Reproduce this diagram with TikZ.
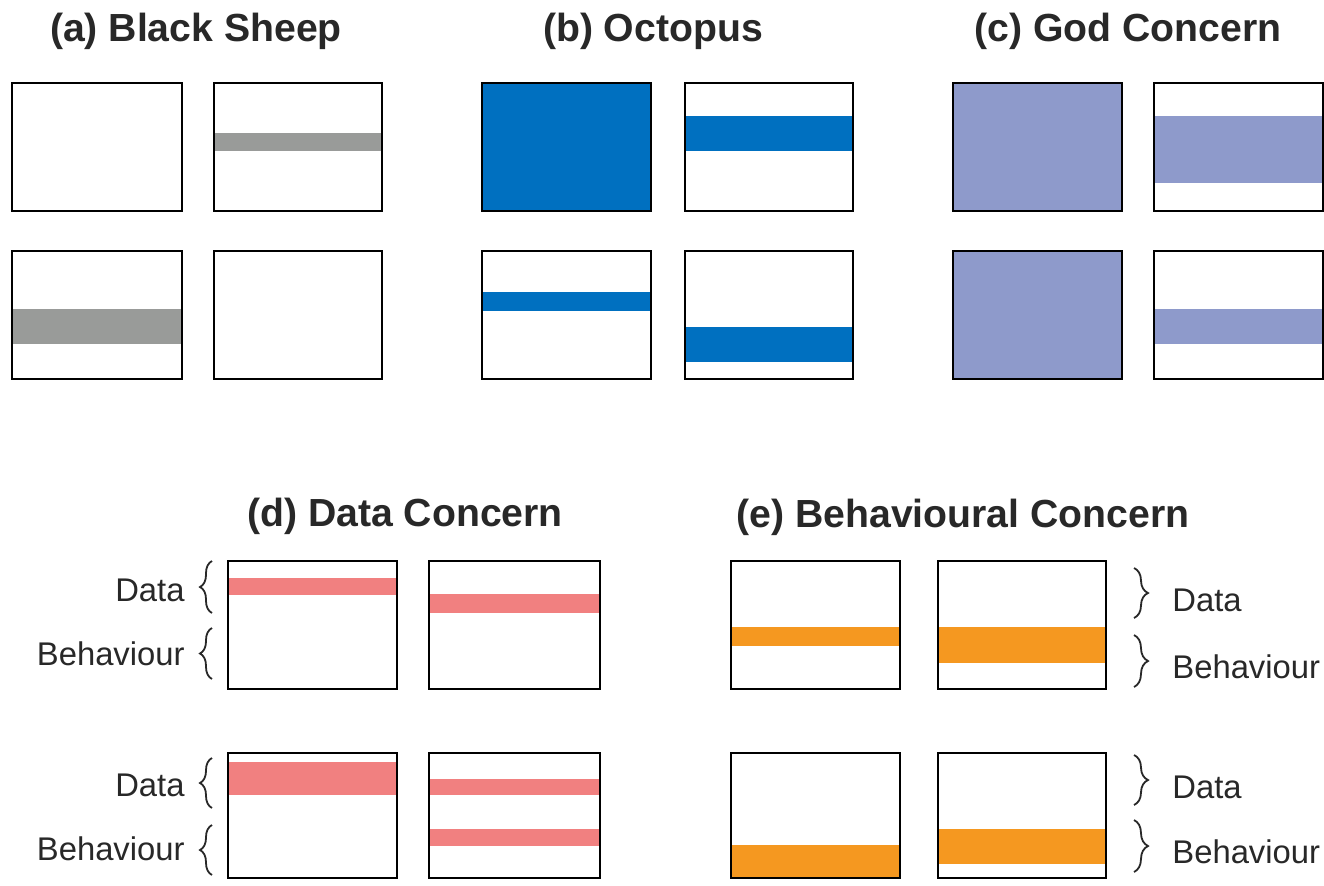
\documentclass[tikz,border=0pt]{standalone}
\usepackage{fontspec}
\setmainfont{Liberation Sans}
\usetikzlibrary{decorations.pathreplacing}
\definecolor{sheepgray}{RGB}{153,155,153}
\definecolor{octoblue}{RGB}{0,112,192}
\definecolor{godblue}{RGB}{142,154,203}
\definecolor{datapink}{RGB}{241,128,128}
\definecolor{behorange}{RGB}{245,152,32}
\definecolor{titlegray}{RGB}{40,40,40}
\begin{document}
\begin{tikzpicture}[x=0.5pt,y=-0.5pt,
  cell/.style={draw=black,line width=1pt},
  paneltitle/.style={font=\bfseries\fontsize{19.6}{22}\selectfont,text=titlegray,anchor=base,inner sep=0pt},
  sidelabel/.style={font=\fontsize{16.4}{18}\selectfont,text=titlegray,inner sep=0pt},
  lbrace/.style={decorate,decoration={brace,amplitude=6pt},line width=0.9pt,draw=titlegray},
  rbrace/.style={decorate,decoration={brace,amplitude=7pt},line width=0.9pt,draw=titlegray}]
\useasboundingbox (0,0) rectangle (1324,885);

% (a) Black Sheep
\node[paneltitle] (ta) at (196,41) {(a) Black Sheep};
\fill[sheepgray] (214,133) rectangle (382,151);
\fill[sheepgray] (12,309) rectangle (182,344);
\draw[cell] (12,83) rectangle (182,211);
\draw[cell] (214,83) rectangle (382,211);
\draw[cell] (12,251) rectangle (182,379);
\draw[cell] (214,251) rectangle (382,379);

% (b) Octopus
\node[paneltitle] (tb) at (653,41) {(b) Octopus};
\fill[octoblue] (482,83) rectangle (651,211);
\fill[octoblue] (685,116) rectangle (853,151);
\fill[octoblue] (482,292) rectangle (651,311);
\fill[octoblue] (685,327) rectangle (853,362);
\draw[cell] (482,83) rectangle (651,211);
\draw[cell] (685,83) rectangle (853,211);
\draw[cell] (482,251) rectangle (651,379);
\draw[cell] (685,251) rectangle (853,379);

% (c) God Concern
\node[paneltitle] (tc) at (1128,41) {(c) God Concern};
\fill[godblue] (953,83) rectangle (1122,211);
\fill[godblue] (1154,116) rectangle (1323,183);
\fill[godblue] (953,251) rectangle (1122,379);
\fill[godblue] (1154,309) rectangle (1323,344);
\draw[cell] (953,83) rectangle (1122,211);
\draw[cell] (1154,83) rectangle (1323,211);
\draw[cell] (953,251) rectangle (1122,379);
\draw[cell] (1154,251) rectangle (1323,379);

% (d) Data Concern
\node[paneltitle] (td) at (405,526) {(d) Data Concern};
\fill[datapink] (228,578) rectangle (397,595);
\fill[datapink] (429,594) rectangle (600,613);
\fill[datapink] (228,762) rectangle (397,795);
\fill[datapink] (429,779) rectangle (600,795);
\fill[datapink] (429,829) rectangle (600,846);
\draw[cell] (228,561) rectangle (397,689);
\draw[cell] (429,561) rectangle (600,689);
\draw[cell] (228,753) rectangle (397,878);
\draw[cell] (429,753) rectangle (600,878);
\node[sidelabel,anchor=east] (d1) at (185,590) {Data};
\node[sidelabel,anchor=east] (d2) at (185,654) {Behaviour};
\node[sidelabel,anchor=east] (d3) at (185,785) {Data};
\node[sidelabel,anchor=east] (d4) at (185,849) {Behaviour};
\draw[lbrace] (212,613) -- (212,561);
\draw[lbrace] (212,679) -- (212,628);
\draw[lbrace] (212,808) -- (212,758);
\draw[lbrace] (212,875) -- (212,825);

% (e) Behavioural Concern
\node[paneltitle] (te) at (963,527) {(e) Behavioural Concern};
\fill[behorange] (731,627) rectangle (900,646);
\fill[behorange] (938,627) rectangle (1106,663);
\fill[behorange] (731,845) rectangle (900,878);
\fill[behorange] (938,829) rectangle (1106,864);
\draw[cell] (731,561) rectangle (900,689);
\draw[cell] (938,561) rectangle (1106,689);
\draw[cell] (731,753) rectangle (900,878);
\draw[cell] (938,753) rectangle (1106,878);
\draw[rbrace] (1134,568) -- (1134,618);
\draw[rbrace] (1134,635) -- (1134,687);
\draw[rbrace] (1134,755) -- (1134,805);
\draw[rbrace] (1134,820) -- (1134,872);
\node[sidelabel,anchor=west] (e1) at (1172,600) {Data};
\node[sidelabel,anchor=west] (e2) at (1172,667) {Behaviour};
\node[sidelabel,anchor=west] (e3) at (1172,787) {Data};
\node[sidelabel,anchor=west] (e4) at (1172,852) {Behaviour};
\end{tikzpicture}
\end{document}
